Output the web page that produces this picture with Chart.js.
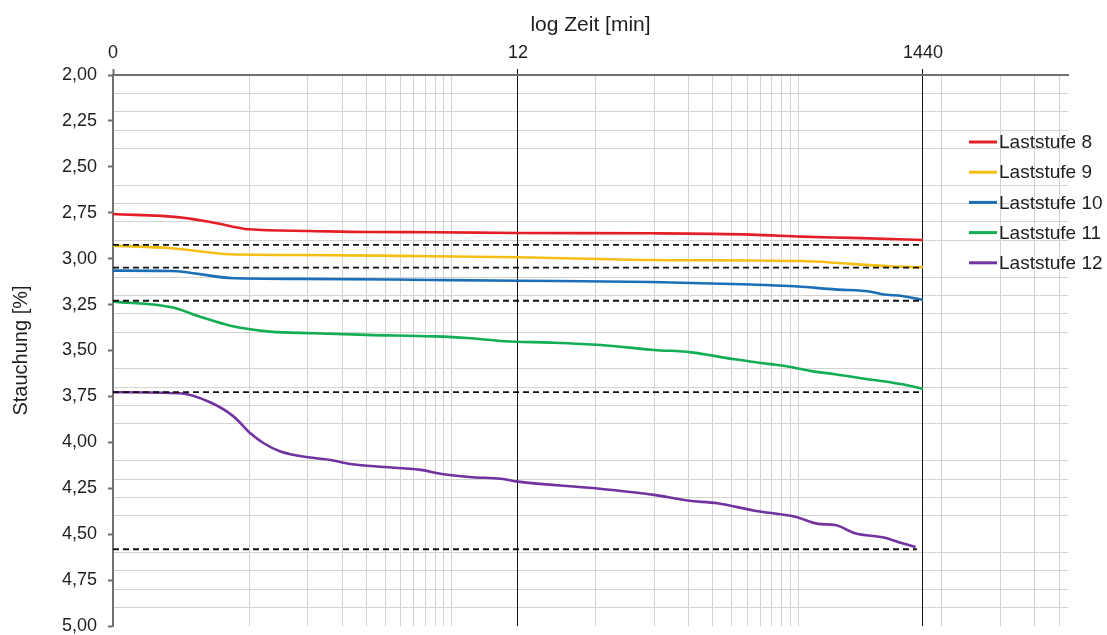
<!DOCTYPE html>
<html>
<head>
<meta charset="utf-8">
<script src="https://cdn.jsdelivr.net/npm/chart.js@4.4.1/dist/chart.umd.min.js"></script>
<style>
html, body { margin: 0; padding: 0; background: #fff; }
#wrap { width: 1107px; height: 635px; position: relative; }
</style>
</head>
<body>
<div id="wrap"><canvas id="c" width="1107" height="635"></canvas></div>
<script>
// ---------- data ----------
const seriesLabels = ['Laststufe 8', 'Laststufe 9', 'Laststufe 10', 'Laststufe 11', 'Laststufe 12'];
const seriesColors = ['#e41e26', '#f5be12', '#1b6fb8', '#12ad55', '#7232a0'];

const t8 = [0.1, 0.22, 0.33, 0.5, 1.0, 2.0, 4.4, 12, 58, 190, 343, 620, 1440];
const v8 = [2.757, 2.775, 2.804, 2.840, 2.849, 2.855, 2.856, 2.860, 2.862, 2.869, 2.880, 2.887, 2.898];

const t9 = [0.1, 0.2, 0.4, 0.92, 3.0, 12, 58, 343, 510, 734, 960, 1440];
const v9 = [2.929, 2.943, 2.976, 2.980, 2.985, 2.992, 3.007, 3.013, 3.022, 3.034, 3.041, 3.047];

const t10 = [0.1, 0.2, 0.42, 0.92, 4.4, 12, 58, 190, 296, 510, 790, 888, 1130, 1440];
const v10 = [3.065, 3.067, 3.107, 3.110, 3.116, 3.120, 3.127, 3.141, 3.149, 3.167, 3.181, 3.194, 3.203, 3.225];

const t11 = [0.1, 0.2, 0.28, 0.4, 0.64, 1.07, 2.02, 4.44, 6.6, 10.2, 17.8, 32, 60, 93, 155, 232, 296, 380, 510, 734, 900, 1130, 1440];
const v11 = [3.234, 3.265, 3.316, 3.365, 3.397, 3.406, 3.415, 3.423, 3.432, 3.450, 3.457, 3.470, 3.497, 3.510, 3.548, 3.573, 3.588, 3.611, 3.629, 3.655, 3.667, 3.684, 3.709];

const t12 = [0.1, 0.22, 0.315, 0.417, 0.507, 0.594, 0.724, 1.03, 1.31, 1.66, 2.27, 3.79, 5.0, 7.0, 9.8, 12, 30, 60, 89, 127, 197, 318, 418, 510, 645, 917, 1130, 1320];
const v12 = [3.727, 3.733, 3.782, 3.860, 3.951, 4.005, 4.050, 4.083, 4.096, 4.118, 4.132, 4.150, 4.174, 4.190, 4.198, 4.214, 4.250, 4.286, 4.317, 4.332, 4.372, 4.405, 4.444, 4.450, 4.495, 4.519, 4.550, 4.570];

const refLevels = [2.925, 3.049, 3.229, 3.727, 4.582];
const refStart = [0.1, 0.1, 0.1, 0.1, 0.1];
const refEnd = [1440, 1440, 1440, 1440, 1340];

const xMajorTicks = [0.1, 12, 1440];
const xTickLabels = ['0', '12', '1440'];
const xMinorTicks = [0.5, 1, 1.5, 2, 2.5, 3, 3.5, 4, 4.5, 5, 5.5,
                     30, 60, 90, 120, 150, 180, 210, 240, 270, 300, 330,
                     1800, 3600, 5400, 7200];

const yTicks = [2.00, 2.25, 2.50, 2.75, 3.00, 3.25, 3.50, 3.75, 4.00, 4.25, 4.50, 4.75, 5.00];
const yTickLabels = ['2,00', '2,25', '2,50', '2,75', '3,00', '3,25', '3,50', '3,75', '4,00', '4,25', '4,50', '4,75', '5,00'];
const yMinorGrid = [2.1, 2.2, 2.3, 2.4, 2.6, 2.7, 2.8, 2.9, 3.1, 3.2, 3.3, 3.4,
                    3.6, 3.7, 3.8, 3.9, 4.1, 4.2, 4.3, 4.4, 4.6, 4.7, 4.8, 4.9];

// ---------- build chart ----------
const FONT = '"Liberation Sans", Arial, Helvetica, sans-serif';
const TXT = '#1e1e1e';
const AXIS = '#707070';
const GRID = '#d3d3d3';
const NONE = 'rgba(0,0,0,0)';

const near = (a, b) => Math.abs(a - b) < 1e-6;
const inList = (list, v) => list.findIndex(m => near(m, v));

const seriesT = [t8, t9, t10, t11, t12];
const seriesV = [v8, v9, v10, v11, v12];

const datasets = [];
refLevels.forEach((lvl, i) => {
  datasets.push({
    label: '',
    legend: false,
    data: [{x: refStart[i], y: lvl}, {x: refEnd[i], y: lvl}],
    borderColor: '#111',
    borderWidth: 1.8,
    borderDash: [6, 4],
    pointRadius: 0,
    fill: false
  });
});
seriesLabels.forEach((lab, i) => {
  datasets.push({
    label: lab,
    legend: true,
    data: seriesT[i].map((t, k) => ({x: t, y: seriesV[i][k]})),
    borderColor: seriesColors[i],
    backgroundColor: seriesColors[i],
    borderWidth: 2.6,
    pointRadius: 0,
    fill: false,
    cubicInterpolationMode: 'monotone'
  });
});

const customLegend = {
  id: 'customLegend',
  afterDraw(chart, args, opts) {
    const ctx = chart.ctx;
    ctx.save();
    ctx.font = opts.fontSize + 'px ' + FONT;
    ctx.textBaseline = 'middle';
    ctx.textAlign = 'left';
    let row = 0;
    chart.data.datasets.forEach(ds => {
      if (!ds.legend) return;
      const y = opts.top + row * opts.rowHeight;
      ctx.strokeStyle = ds.borderColor;
      ctx.lineWidth = 3;
      ctx.beginPath();
      ctx.moveTo(opts.left, y);
      ctx.lineTo(opts.left + opts.lineLen, y);
      ctx.stroke();
      ctx.fillStyle = TXT;
      ctx.fillText(ds.label, opts.left + opts.lineLen + 2, y + 1);
      row++;
    });
    ctx.restore();
  }
};

Chart.defaults.font.family = FONT;

const zeroPad = s => { s.paddingTop = 0; s.paddingBottom = 0; s.paddingLeft = 0; s.paddingRight = 0; };

new Chart(document.getElementById('c'), {
  type: 'line',
  data: { datasets },
  plugins: [customLegend],
  options: {
    responsive: false,
    animation: false,
    devicePixelRatio: 1,
    layout: { padding: { left: 0, top: 0, right: 39, bottom: 9 } },
    plugins: {
      legend: { display: false },
      tooltip: { enabled: false },
      customLegend: { left: 969, top: 142, rowHeight: 30.2, lineLen: 28, fontSize: 19 }
    },
    scales: {
      x: {
        type: 'logarithmic',
        position: 'top',
        min: 0.1,
        max: 8000,
        afterBuildTicks: s => {
          s.ticks = xMajorTicks.concat(xMinorTicks).sort((a, b) => a - b).map(v => ({value: v}));
        },
        afterFit: s => { s.height = 75; zeroPad(s); },
        ticks: {
          autoSkip: false,
          maxRotation: 0,
          minRotation: 0,
          padding: 5,
          color: TXT,
          font: { size: 18 },
          callback: (v) => {
            const i = inList(xMajorTicks, v);
            return i >= 0 ? xTickLabels[i] : '';
          }
        },
        grid: {
          z: -1,
          lineWidth: 1,
          tickLength: 6,
          color: ctx => {
            const v = ctx.tick ? ctx.tick.value : null;
            if (v === null) return NONE;
            if (near(v, 0.1)) return NONE;
            return inList(xMajorTicks, v) >= 0 ? '#111' : GRID;
          },
          tickColor: ctx => {
            const v = ctx.tick ? ctx.tick.value : null;
            if (v === null) return NONE;
            if (near(v, 0.1)) return AXIS;
            return inList(xMajorTicks, v) >= 0 ? '#111' : NONE;
          },
          tickWidth: ctx => {
            const v = ctx.tick ? ctx.tick.value : null;
            return (v !== null && near(v, 0.1)) ? 2 : 1;
          }
        },
        border: { color: AXIS, width: 2 },
        title: {
          display: true,
          text: 'log Zeit [min]',
          color: TXT,
          font: { size: 21 },
          padding: { top: 13, bottom: 0 }
        }
      },
      y: {
        type: 'linear',
        position: 'left',
        reverse: true,
        min: 2,
        max: 5,
        afterBuildTicks: s => {
          s.ticks = yTicks.concat(yMinorGrid).sort((a, b) => a - b).map(v => ({value: v}));
        },
        afterFit: s => { s.width = 113; zeroPad(s); },
        ticks: {
          autoSkip: false,
          padding: 11,
          color: TXT,
          font: { size: 18 },
          callback: (v) => {
            const i = inList(yTicks, v);
            return i >= 0 ? yTickLabels[i] : '';
          }
        },
        grid: {
          z: -2,
          lineWidth: 1,
          tickLength: 5,
          tickWidth: 2,
          color: ctx => {
            const v = ctx.tick ? ctx.tick.value : null;
            if (v === null) return NONE;
            return inList(yMinorGrid, v) >= 0 ? GRID : NONE;
          },
          tickColor: ctx => {
            const v = ctx.tick ? ctx.tick.value : null;
            if (v === null) return NONE;
            return inList(yTicks, v) >= 0 ? AXIS : NONE;
          }
        },
        border: { color: AXIS, width: 2 },
        title: {
          display: true,
          text: 'Stauchung [%]',
          color: TXT,
          font: { size: 20 },
          padding: { top: 9, bottom: 0 }
        }
      }
    }
  }
});
</script>
</body>
</html>
